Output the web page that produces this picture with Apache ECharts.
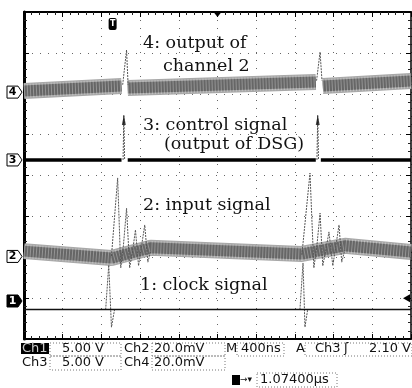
<!DOCTYPE html>
<html lang="en">
<head>
<meta charset="UTF-8">
<title>scope capture</title>
<script src="https://cdn.jsdelivr.net/npm/echarts@6/dist/echarts.min.js"></script>
<style>
html, body { margin: 0; padding: 0; background: #fff; }
#chart { width: 412px; height: 388px; }
</style>
</head>
<body>
<div id="chart"></div>
<script>
// screen is 10 div across, 8 div up; all values in divisions
var ch4Band = [[[0, 6.07], [2.52, 6.19]], [[2.68, 6.14], [7.54, 6.29]], [[7.72, 6.19], [10, 6.31]]];
var ch4Spikes = [[[2.55, 6.22], [2.65, 7.07], [2.69, 6.22]], [[7.56, 6.32], [7.65, 7.02], [7.70, 6.32]]];
var ch3Line = [[[0, 4.38], [2.52, 4.38]], [[2.68, 4.38], [7.54, 4.38]], [[7.67, 4.38], [10, 4.38]]];
var ch3Pulses = [[[2.56, 4.38], [2.58, 5.48], [2.60, 4.38]], [[7.57, 4.38], [7.59, 5.48], [7.61, 4.38]]];
var ch3Tips = [[2.58, 5.36], [7.59, 5.36]];
var ch2Band = [[0, 2.15], [2.26, 1.98], [3.27, 2.23], [7.18, 2.08], [8.29, 2.28], [10, 2.13]];
var ch2Ring = [
	[[2.26, 2.03], [2.42, 3.94], [2.50, 1.74], [2.57, 2.30], [2.65, 3.20], [2.73, 1.74], [2.81, 2.18], [2.88, 2.67], [2.96, 1.79], [3.12, 2.79], [3.20, 1.88], [3.27, 2.13]],
	[[7.18, 2.06], [7.39, 4.06], [7.49, 1.74], [7.57, 2.30], [7.65, 3.08], [7.72, 1.79], [7.80, 2.18], [7.88, 2.62], [7.98, 1.79], [8.14, 2.79], [8.21, 1.88], [8.29, 2.18]]
];
var ch1Line = [[0, 0.72], [10, 0.72]];
var ch1Spikes = [[[2.11, 0.72], [2.19, 1.81], [2.26, 0.29], [2.34, 0.72]], [[7.13, 0.72], [7.21, 1.86], [7.26, 0.29], [7.33, 0.72]]];
var chNames = ['1', '2', '3', '4'];
var chLevels = [0.93, 2.02, 4.38, 6.04];
var trigLevel = 1.0, trigPos = 2.29, centerX = 5;

var notes = [
	['4: output of', 143, 43],
	['channel 2', 163, 66],
	['3: control signal', 143, 125],
	['(output of DSG)', 164, 144],
	['2: input signal', 143, 205],
	['1: clock signal', 140, 285]
];
var row1 = [['5.00 V', 62], ['Ch2', 124], ['20.0mV', 154], ['M', 226], ['400ns', 241], ['A', 296], ['Ch3', 315], ['\u0283', 344]];
var row2 = [['Ch3', 22], ['5.00 V', 62], ['Ch4', 124], ['20.0mV', 154]];

var chart = echarts.init(document.getElementById('chart'));

function axis(pos, isX, split, lw) {
	return {
		type: 'value', position: pos, min: 0, max: isX ? 10 : 8, interval: 1,
		axisLine: { show: true, onZero: false, lineStyle: { color: '#000', width: lw } },
		axisLabel: { show: false },
		axisTick: { show: true, inside: true, length: 5, lineStyle: { color: '#000', width: 1 } },
		minorTick: { show: true, splitNumber: 5, length: 3, lineStyle: { color: '#222', width: 1 } },
		splitLine: { show: split, lineStyle: { color: '#666', width: 1, type: [1, 7] } }
	};
}

var series = [];
function line(data, color, width, z, type, opacity) {
	series.push({ type: 'line', data: data, showSymbol: false, silent: true, z: z,
		lineStyle: { color: color, width: width, type: type || 'solid', opacity: opacity == null ? 1 : opacity },
		animation: false });
}
// noisy trace drawn as a thick grey band with a speckle overlay
function band(data) {
	line(data, '#a8a8a8', 16, 2);
	line(data, '#666666', 11, 2);
	line(data, '#ffffff', 14, 2, [1, 2], 0.3);
}
function thin(d) { line(d, '#555', 1, 3, [2, 1]); }
ch4Band.forEach(band);
band(ch2Band);
ch4Spikes.forEach(thin);
ch2Ring.forEach(thin);
ch3Line.forEach(function (d) { line(d, '#000', 3.5, 4); });
ch3Pulses.forEach(thin);
line(ch1Line, '#111', 1.6, 4);
ch1Spikes.forEach(thin);
series.push({ type: 'scatter', data: ch3Tips, symbol: 'triangle', symbolSize: [4, 10],
	itemStyle: { color: '#111' }, silent: true, z: 5, animation: false });

chart.setOption({
	animation: false,
	grid: { left: 24, top: 12, width: 387, height: 327, show: false },
	xAxis: [axis('bottom', true, true, 2), axis('top', true, false, 2)],
	yAxis: [axis('left', false, true, 3), axis('right', false, false, 1.5)],
	series: series
});

function px(x, y) { return chart.convertToPixel({ gridIndex: 0 }, [x, y]); }

var g = [];
var serif = '17.5px "DejaVu Serif"';
notes.forEach(function (n) {
	g.push({ type: 'text', x: n[1], y: n[2], z: 10,
		style: { text: n[0], font: serif, fill: '#111', align: 'left', verticalAlign: 'middle' } });
});

// channel ground markers
chLevels.forEach(function (lv, i) {
	var y = px(0, lv)[1];
	var dark = i === 0;
	g.push({ type: 'polygon', z: 10,
		shape: { points: [[7, y - 6], [18, y - 6], [22, y], [18, y + 6], [7, y + 6]] },
		style: { fill: dark ? '#000' : '#fff', stroke: '#000', lineWidth: 1 } });
	g.push({ type: 'text', x: 12.5, y: y, z: 11,
		style: { text: chNames[i], font: 'bold 11px "DejaVu Sans"', fill: dark ? '#fff' : '#000', align: 'center', verticalAlign: 'middle' } });
});

// trigger position / level marks
var tp = px(trigPos, 8);
g.push({ type: 'rect', z: 10, shape: { x: tp[0] - 4, y: 18, width: 8, height: 12, r: 2 }, style: { fill: '#000' } });
g.push({ type: 'text', x: tp[0], y: 24, z: 11, style: { text: 'T', font: 'bold 8px "DejaVu Sans"', fill: '#fff', align: 'center', verticalAlign: 'middle' } });
var cx = px(centerX, 8)[0];
g.push({ type: 'polygon', z: 10, shape: { points: [[cx - 4, 12], [cx + 4, 12], [cx, 17]] }, style: { fill: '#000' } });
var tl = px(10, trigLevel)[1];
g.push({ type: 'polygon', z: 10, shape: { points: [[403, tl], [410, tl - 4], [410, tl + 4]] }, style: { fill: '#000' } });

// status readout
var sans = '13px "DejaVu Sans"';
g.push({ type: 'rect', z: 10, shape: { x: 21, y: 343, width: 28, height: 11 }, style: { fill: '#000' } });
g.push({ type: 'text', x: 22, y: 348.5, z: 11, style: { text: 'Ch1', font: sans, fill: '#ccc', verticalAlign: 'middle' } });
row1.forEach(function (t) {
	g.push({ type: 'text', x: t[1], y: 349, z: 11, style: { text: t[0], font: sans, fill: '#111', verticalAlign: 'middle' } });
});
g.push({ type: 'text', x: 411, y: 349, z: 11, style: { text: '2.10 V', font: sans, fill: '#111', align: 'right', verticalAlign: 'middle' } });
row2.forEach(function (t) {
	g.push({ type: 'text', x: t[1], y: 363, z: 11, style: { text: t[0], font: sans, fill: '#111', verticalAlign: 'middle' } });
});
var boxes = [[50, 343, 71, 13], [50, 356, 71, 14], [152, 343, 73, 13], [152, 356, 73, 14], [237, 343, 47, 13], [305, 343, 107, 13], [257, 373, 80, 14]];
boxes.forEach(function (b) {
	g.push({ type: 'rect', z: 9, shape: { x: b[0], y: b[1], width: b[2], height: b[3] },
		style: { fill: null, stroke: '#777', lineWidth: 1, lineDash: [1, 2] } });
});
g.push({ type: 'rect', z: 10, shape: { x: 232, y: 375, width: 8, height: 10 }, style: { fill: '#000' } });
g.push({ type: 'text', x: 240, y: 380, z: 11, style: { text: '\u2192\u25BE', font: '9px "DejaVu Sans"', fill: '#111', verticalAlign: 'middle' } });
g.push({ type: 'text', x: 260, y: 380, z: 11, style: { text: '1.07400\u00B5s', font: sans, fill: '#111', verticalAlign: 'middle' } });

chart.setOption({ graphic: g });
</script>
</body>
</html>
